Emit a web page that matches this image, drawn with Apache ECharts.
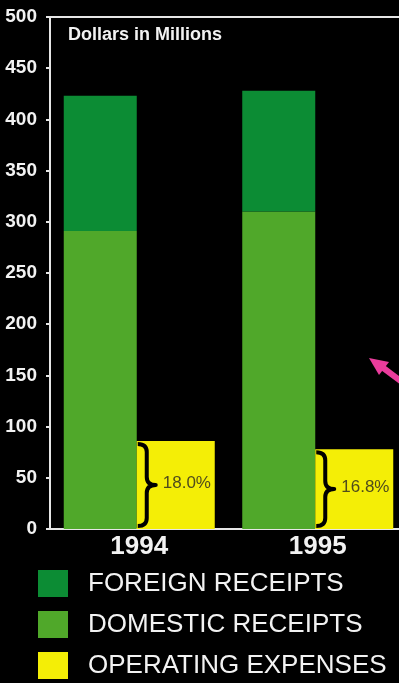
<!DOCTYPE html>
<html>
<head>
<meta charset="utf-8">
<title>Receipts and Operating Expenses</title>
<script src="https://cdn.jsdelivr.net/npm/echarts@6/dist/echarts.min.js"></script>
<style>
  html, body { margin: 0; padding: 0; background: #000; }
  #chart { width: 399px; height: 683px; }
</style>
</head>
<body>
<div id="chart"></div>
<script>
// Receipts and operating expenses, dollars in millions
const categories = ['1994', '1995'];
const foreignReceipts = [132, 118];
const domesticReceipts = [291, 310];
const operatingExpenses = [86, 78];
const expenseShare = ['18.0%', '16.8%'];
const yAxisMin = 0;
const yAxisMax = 500;
const yAxisStep = 50;

const FONT = '"Liberation Sans", Arial, Helvetica, sans-serif';
const RECEIPTS_W = 73;
const EXPENSES_W = 78;

const chart = echarts.init(document.getElementById('chart'));

// Curly brace beside each expense bar, with its share label
function renderBrace(params, api) {
  const idx = api.value(0);
  const top = api.coord([idx, api.value(1)]);
  const bot = api.coord([idx, 0]);
  const x0 = top[0] + (RECEIPTS_W + EXPENSES_W) / 2 - EXPENSES_W + 1;
  const yT = top[1] + 3;
  const yB = bot[1] - 3;
  const ym = (yT + yB) / 2;
  const w = 18, s = x0 + 9, r = 8;
  const d = [
    'M', x0, yT,
    'Q', s, yT, s, yT + r,
    'L', s, ym - r,
    'Q', s, ym, x0 + w, ym,
    'Q', s, ym, s, ym + r,
    'L', s, yB - r,
    'Q', s, yB, x0, yB
  ].join(' ');
  return {
    type: 'group',
    children: [
      {
        type: 'path',
        shape: { pathData: d },
        style: { stroke: '#000', lineWidth: 4, fill: null, lineJoin: 'round' }
      },
      {
        type: 'text',
        style: {
          text: api.value(2),
          x: x0 + 25,
          y: ym - 2,
          fill: '#4f4c1c',
          fontSize: 17,
          fontFamily: FONT,
          verticalAlign: 'middle',
          align: 'left'
        }
      }
    ]
  };
}

chart.setOption({
  backgroundColor: '#000',
  animation: false,
  grid: {
    left: 50, width: 357, top: 17, bottom: 154,
    outerBoundsMode: 'none',
    show: true, borderColor: '#e6e6e6', borderWidth: 2,
    backgroundColor: 'transparent'
  },
  legend: {
    orient: 'vertical',
    left: 38, top: 570, padding: 0,
    itemWidth: 30, itemHeight: 27, itemGap: 14,
    icon: 'rect',
    data: ['FOREIGN RECEIPTS', 'DOMESTIC RECEIPTS', 'OPERATING EXPENSES'],
    textStyle: {
      color: '#f2f2f2', fontSize: 26, fontFamily: FONT,
      lineHeight: 27, padding: [0, 0, 0, 15]
    },
    selectedMode: false
  },
  xAxis: {
    type: 'category',
    data: categories,
    axisLine: { lineStyle: { color: '#e6e6e6', width: 2 } },
    axisTick: { show: false },
    axisLabel: { color: '#f2f2f2', fontSize: 26, fontWeight: 'bold', fontFamily: FONT, margin: 5 }
  },
  yAxis: {
    type: 'value',
    min: yAxisMin, max: yAxisMax, interval: yAxisStep,
    axisLine: { show: true, lineStyle: { color: '#e6e6e6', width: 2 } },
    axisTick: { show: true, length: 4, lineStyle: { color: '#e6e6e6', width: 2 } },
    splitLine: { show: false },
    axisLabel: { color: '#f2f2f2', fontSize: 19, fontWeight: 'bold', fontFamily: FONT, margin: 13 }
  },
  graphic: [
    {
      type: 'text', left: 68, top: 26,
      style: { text: 'Dollars in Millions', fill: '#f2f2f2', font: 'bold 18px ' + FONT }
    },
    {
      type: 'polygon',
      shape: { points: [[369, 358], [389, 362], [379, 375]] },
      style: { fill: '#ea3c9c' }
    },
    {
      type: 'line',
      shape: { x1: 382, y1: 367, x2: 402, y2: 382 },
      style: { stroke: '#ea3c9c', lineWidth: 6 }
    }
  ],
  series: [
    {
      name: 'DOMESTIC RECEIPTS', type: 'bar', stack: 'receipts',
      barWidth: RECEIPTS_W, barGap: '0%',
      itemStyle: { color: '#50a82a' },
      data: domesticReceipts
    },
    {
      name: 'FOREIGN RECEIPTS', type: 'bar', stack: 'receipts',
      barWidth: RECEIPTS_W, barGap: '0%',
      itemStyle: { color: '#0c8c34' },
      data: foreignReceipts
    },
    {
      name: 'OPERATING EXPENSES', type: 'bar', stack: 'expenses',
      barWidth: EXPENSES_W, barGap: '0%',
      itemStyle: { color: '#f4ee06' },
      data: operatingExpenses
    },
    {
      name: 'braces', type: 'custom',
      renderItem: renderBrace,
      encode: { x: 0, y: 1 },
      z: 5,
      silent: true,
      data: categories.map((c, i) => [i, operatingExpenses[i], expenseShare[i]])
    }
  ]
});
</script>
</body>
</html>
